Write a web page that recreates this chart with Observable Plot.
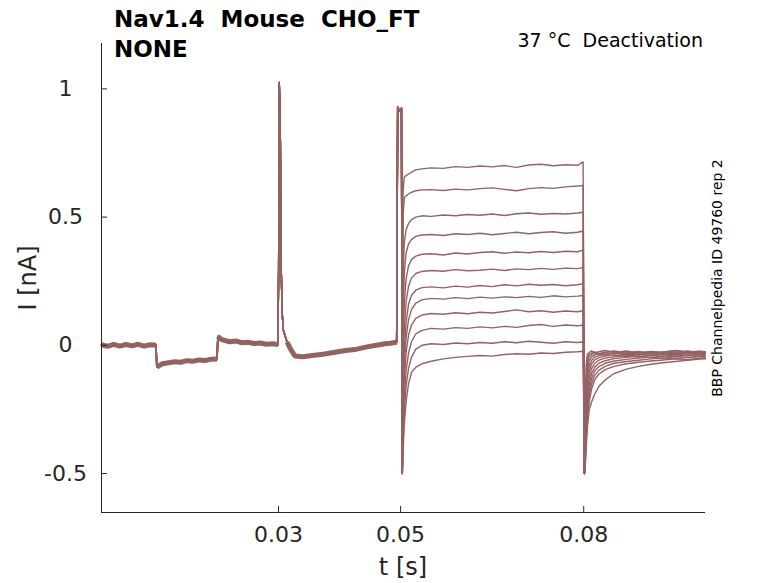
<!DOCTYPE html>
<html><head><meta charset="utf-8">
<script src="https://cdn.jsdelivr.net/npm/d3@7"></script>
<script src="https://cdn.jsdelivr.net/npm/@observablehq/plot@0.6"></script>
<style>
body{margin:0;background:#fff}
svg text{font-family:"DejaVu Sans",sans-serif}
</style>
</head><body><div id="chart"></div>
<script>
// ---- axis settings ----
const xDomain = [0.001, 0.09995];
const yDomain = [-0.652, 1.177];
const xTicks = [0.03, 0.05, 0.08];
const yTicks = [-0.5, 0, 0.5, 1];

// ---- shared holding / prepulse segment (all sweeps) ----
const preT = [0.001, 0.002, 0.003, 0.004, 0.005, 0.006, 0.007, 0.008, 0.009, 0.00995,
  0.01005, 0.0105, 0.011, 0.012, 0.013, 0.014, 0.015, 0.016, 0.017, 0.018, 0.019, 0.01995,
  0.02005, 0.0205, 0.021, 0.022, 0.023, 0.024, 0.025, 0.026, 0.027, 0.028, 0.029, 0.0299,
  0.03002, 0.03012, 0.0302, 0.0303, 0.03045, 0.0306, 0.0308, 0.0314, 0.0319, 0.0327, 0.034,
  0.0355, 0.0373, 0.039, 0.041, 0.0428, 0.0445, 0.046, 0.0475, 0.0483, 0.04935,
  0.04952, 0.0498, 0.05014];
const preI = [0.002, -0.004, 0.004, -0.003, 0.003, -0.002, 0.004, -0.003, 0.002, 0.0,
  -0.085, -0.078, -0.072, -0.068, -0.064, -0.066, -0.06, -0.062, -0.057, -0.059, -0.054, -0.053,
  0.035, 0.025, 0.02, 0.014, 0.017, 0.01, 0.012, 0.007, 0.009, 0.004, 0.006, 0.003,
  0.3, 1.025, 0.95, 0.8, 0.29, 0.125, 0.058, 0.013, -0.012, -0.042, -0.045,
  -0.04, -0.035, -0.028, -0.02, -0.015, -0.006, 0.0, 0.006, 0.008, 0.012,
  0.93, 0.915, 0.925];
// time breaks for the thick noisy band (steps and spike)
const bandBreaks = [0.01, 0.02, 0.03, 0.0313, 0.0494];

// ---- capacitive dips at 0.05 s and 0.08 s ----
const dipT = [0.05028, 0.08012];
const dipI = [-0.5, -0.5];

// ---- test pulse segment, one row per sweep ----
const sweeps = ["s1","s2","s3","s4","s5","s6","s7","s8","s9","s10","s11","s12"];
const testT = [0.0504, 0.0506, 0.0509, 0.0513, 0.0518, 0.0525, 0.0535, 0.055, 0.057, 0.059, 0.061,
  0.063, 0.065, 0.067, 0.069, 0.071, 0.073, 0.075, 0.077, 0.079, 0.0799];
const testI = [
  [0.60, 0.655, 0.662, 0.668, 0.675, 0.684, 0.688, 0.692, 0.690, 0.697, 0.694, 0.699, 0.696, 0.701, 0.694, 0.703, 0.706, 0.700, 0.704, 0.702, 0.715],
  [0.50, 0.575, 0.583, 0.590, 0.597, 0.603, 0.606, 0.607, 0.604, 0.609, 0.606, 0.611, 0.614, 0.608, 0.603, 0.611, 0.615, 0.612, 0.618, 0.621, 0.623],
  [0.25, 0.40, 0.45, 0.475, 0.49, 0.50, 0.505, 0.503, 0.508, 0.505, 0.510, 0.507, 0.512, 0.506, 0.513, 0.516, 0.511, 0.514, 0.512, 0.516, 0.519],
  [0.10, 0.28, 0.36, 0.395, 0.413, 0.425, 0.43, 0.432, 0.428, 0.435, 0.432, 0.437, 0.431, 0.436, 0.441, 0.435, 0.440, 0.443, 0.437, 0.441, 0.446],
  [-0.02, 0.16, 0.26, 0.31, 0.335, 0.348, 0.355, 0.357, 0.352, 0.360, 0.356, 0.362, 0.365, 0.359, 0.364, 0.361, 0.366, 0.362, 0.367, 0.365, 0.371],
  [-0.10, 0.06, 0.17, 0.23, 0.263, 0.28, 0.288, 0.292, 0.289, 0.295, 0.291, 0.293, 0.297, 0.292, 0.298, 0.295, 0.300, 0.296, 0.301, 0.299, 0.304],
  [-0.17, -0.02, 0.09, 0.16, 0.195, 0.215, 0.225, 0.228, 0.224, 0.231, 0.227, 0.233, 0.229, 0.236, 0.232, 0.238, 0.234, 0.237, 0.232, 0.236, 0.24],
  [-0.23, -0.08, 0.03, 0.10, 0.14, 0.165, 0.177, 0.183, 0.180, 0.186, 0.182, 0.188, 0.184, 0.189, 0.186, 0.191, 0.187, 0.193, 0.189, 0.192, 0.194],
  [-0.28, -0.14, -0.03, 0.04, 0.08, 0.105, 0.118, 0.124, 0.121, 0.127, 0.123, 0.129, 0.126, 0.132, 0.138, 0.131, 0.135, 0.129, 0.134, 0.131, 0.135],
  [-0.33, -0.20, -0.10, -0.03, 0.015, 0.045, 0.058, 0.066, 0.063, 0.069, 0.066, 0.072, 0.068, 0.074, 0.070, 0.077, 0.081, 0.074, 0.079, 0.076, 0.079],
  [-0.38, -0.26, -0.16, -0.09, -0.045, -0.015, 0.0, 0.006, 0.003, 0.009, 0.006, 0.011, 0.008, 0.014, 0.010, 0.016, 0.012, 0.008, 0.014, 0.011, 0.013],
  [-0.42, -0.31, -0.22, -0.15, -0.105, -0.085, -0.072, -0.062, -0.053, -0.047, -0.043, -0.040, -0.042, -0.036, -0.033, -0.035, -0.030, -0.032, -0.027, -0.025, -0.023]
];

// ---- tail segment after 0.08 s, one row per sweep ----
const tailT = [0.08025, 0.0804, 0.0806, 0.0809, 0.0813, 0.0818, 0.0825, 0.0835, 0.085, 0.087, 0.089,
  0.091, 0.093, 0.095, 0.097, 0.099, 0.0999];
const tailI = [
  [-0.30, -0.08, -0.035, -0.028, -0.022, -0.030, -0.025, -0.020, -0.028, -0.022, -0.030, -0.024, -0.028, -0.021, -0.026, -0.023, -0.025],
  [-0.33, -0.12, -0.05, -0.035, -0.03, -0.026, -0.033, -0.027, -0.022, -0.029, -0.024, -0.031, -0.026, -0.02, -0.027, -0.024, -0.028],
  [-0.36, -0.16, -0.07, -0.045, -0.036, -0.03, -0.034, -0.028, -0.033, -0.026, -0.031, -0.025, -0.03, -0.027, -0.022, -0.029, -0.026],
  [-0.38, -0.20, -0.10, -0.06, -0.045, -0.038, -0.032, -0.036, -0.03, -0.035, -0.028, -0.033, -0.027, -0.031, -0.026, -0.03, -0.028],
  [-0.40, -0.24, -0.13, -0.08, -0.058, -0.046, -0.04, -0.036, -0.041, -0.034, -0.038, -0.032, -0.036, -0.03, -0.034, -0.029, -0.031],
  [-0.41, -0.27, -0.16, -0.10, -0.072, -0.057, -0.048, -0.042, -0.038, -0.043, -0.036, -0.04, -0.034, -0.038, -0.032, -0.036, -0.033],
  [-0.42, -0.30, -0.19, -0.125, -0.09, -0.07, -0.058, -0.05, -0.045, -0.04, -0.046, -0.039, -0.043, -0.037, -0.041, -0.035, -0.038],
  [-0.43, -0.32, -0.22, -0.15, -0.11, -0.085, -0.07, -0.06, -0.052, -0.047, -0.043, -0.048, -0.041, -0.045, -0.039, -0.042, -0.04],
  [-0.44, -0.34, -0.25, -0.175, -0.13, -0.10, -0.083, -0.07, -0.061, -0.055, -0.05, -0.046, -0.051, -0.044, -0.048, -0.042, -0.045],
  [-0.45, -0.36, -0.27, -0.20, -0.15, -0.118, -0.097, -0.082, -0.07, -0.063, -0.058, -0.053, -0.049, -0.053, -0.047, -0.05, -0.048],
  [-0.46, -0.38, -0.29, -0.22, -0.17, -0.135, -0.112, -0.095, -0.082, -0.072, -0.066, -0.061, -0.057, -0.053, -0.056, -0.051, -0.053],
  [-0.47, -0.40, -0.32, -0.25, -0.22, -0.19, -0.16, -0.135, -0.11, -0.093, -0.082, -0.074, -0.068, -0.063, -0.058, -0.054, -0.052]
];

// ---- texts ----
const titleLines = ["Nav1.4  Mouse  CHO_FT", "NONE"];
const subtitle = "37 \u00B0C  Deactivation";
const sideNote = "BBP Channelpedia ID 49760 rep 2";
const xLabel = "t [s]";
const yLabel = "I [nA]";

const traceColor = "#956262";
const axisColor = "#262626";

// build tidy rows
const rows = [];
sweeps.forEach((s, k) => {
  preT.forEach((t, j) => rows.push({sweep: s, t, i: preI[j]}));
  rows.push({sweep: s, t: dipT[0], i: dipI[0]});
  testT.forEach((t, j) => rows.push({sweep: s, t, i: testI[k][j]}));
  rows.push({sweep: s, t: dipT[1], i: dipI[1]});
  tailT.forEach((t, j) => rows.push({sweep: s, t, i: tailI[k][j]}));
});
const band = preT.map((t, j) => ({t, i: preI[j], seg: d3.bisectRight(bandBreaks, t)}))
  .filter(d => d.seg !== 3 && d.seg !== 5);

const plot = Plot.plot({
  width: 778, height: 583,
  marginLeft: 101, marginRight: 73, marginTop: 43, marginBottom: 71,
  x: {domain: xDomain},
  y: {domain: yDomain},
  style: {fontFamily: "DejaVu Sans", color: axisColor, background: "white", overflow: "visible"},
  marks: [
    Plot.lineY(band, {x: "t", y: "i", z: "seg", stroke: traceColor, strokeWidth: 5, strokeLinejoin: "miter", strokeLinecap: "butt"}),
    Plot.lineY(rows, {x: "t", y: "i", z: "sweep", stroke: traceColor, strokeWidth: 1.4, strokeLinejoin: "round"}),
    Plot.ruleY([yDomain[0]], {stroke: axisColor, strokeWidth: 1}),
    Plot.ruleX([xDomain[0]], {stroke: axisColor, strokeWidth: 1}),
    Plot.axisX(xTicks, {tickSize: -6, tickPadding: 20, fontSize: 22, tickFormat: d => String(d), label: null, stroke: axisColor, fill: axisColor}),
    Plot.axisY(yTicks, {tickSize: -6, tickPadding: 42, textAnchor: "middle", fontSize: 22, tickFormat: d => String(d), label: null, stroke: axisColor, fill: axisColor})
  ]
});
document.getElementById("chart").appendChild(plot);

const svg = d3.select(plot);
const g = svg.append("g").attr("fill", "#000").attr("text-anchor", "start");
g.append("text").attr("x", 114).attr("y", 27).attr("font-size", 23).attr("font-weight", "bold")
  .attr("text-anchor", "start").style("white-space", "pre").text(titleLines[0]);
g.append("text").attr("x", 114).attr("y", 57).attr("font-size", 23).attr("font-weight", "bold")
  .attr("text-anchor", "start").style("white-space", "pre").text(titleLines[1]);
g.append("text").attr("x", 703).attr("y", 47).attr("font-size", 19).attr("text-anchor", "end")
  .style("white-space", "pre").text(subtitle);
g.append("text").attr("transform", "translate(722,278) rotate(-90)").attr("font-size", 14)
  .attr("text-anchor", "middle").text(sideNote);
g.append("text").attr("x", 403).attr("y", 575).attr("font-size", 24).attr("text-anchor", "middle")
  .attr("fill", axisColor).text(xLabel);
g.append("text").attr("transform", "translate(36,278) rotate(-90)").attr("font-size", 24)
  .attr("text-anchor", "middle").attr("fill", axisColor).text(yLabel);
</script>
</body></html>
